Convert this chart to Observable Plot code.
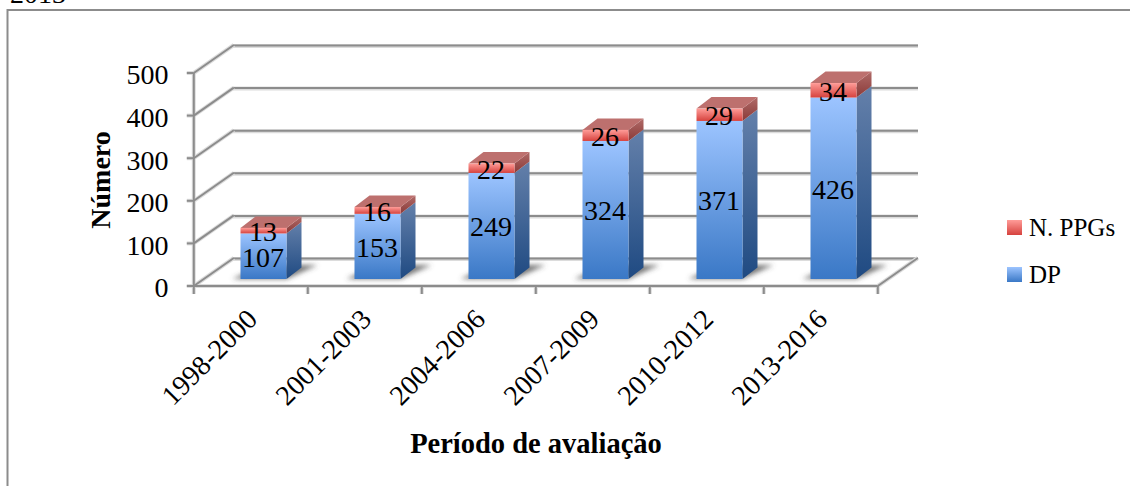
<!DOCTYPE html>
<html><head><meta charset="utf-8">
<script src="https://cdn.jsdelivr.net/npm/d3@7"></script>
<script src="https://cdn.jsdelivr.net/npm/@observablehq/plot@0.6"></script>
<style>
html,body{margin:0;padding:0;background:#fff;overflow:hidden;width:1130px;height:486px}
#chart svg{display:block}
</style></head><body><div id="chart"></div>
<script>
const periods = ["1998-2000","2001-2003","2004-2006","2007-2009","2010-2012","2013-2016"];
const dpValues = [107,153,249,324,371,426];
const ppgValues = [13,16,22,26,29,34];
const yTicks = [0,100,200,300,400,500];
const seriesNames = ["N. PPGs","DP"];
const yTitle = "Número";
const xTitle = "Período de avaliação";
const clippedHeading = "2013";

const font = "'Liberation Serif', serif";
const rows = periods.map((period,i)=>({period,dp:dpValues[i],ppg:ppgValues[i],total:dpValues[i]+ppgValues[i]}));
const wallDx = 40, wallDy = -28;   // floor depth
const barDx = 12.5, barDy = -7;    // bars stand inside the floor
const sideDx = 15, sideDy = -11.5; // bar depth
const grey = "#8c8c8c";

const svgEl = (n,a={},parent)=>{const e=document.createElementNS("http://www.w3.org/2000/svg",n);for(const k in a)e.setAttribute(k,a[k]);if(parent)parent.appendChild(e);return e;};
const bandOf = x => typeof x.bandwidth==="function" ? x.bandwidth() : x.bandwidth;

function defs(){
  const d=svgEl("defs");
  const grad=(id,c1,c2)=>{const g=svgEl("linearGradient",{id,x1:0,y1:0,x2:0,y2:1},d);svgEl("stop",{offset:0,"stop-color":c1},g);svgEl("stop",{offset:1,"stop-color":c2},g);};
  grad("blueFront","#9cc4ff","#3a78c6");
  grad("blueSide","#6480aa","#1f4a82");
  grad("redFront","#ff9c98","#d6423e");
  grad("redSide","#b06a68","#8a3a38");
  const f=svgEl("filter",{id:"blur",x:"-30%",y:"-50%",width:"160%",height:"200%"},d);
  svgEl("feGaussianBlur",{stdDeviation:2.5},f);
  return d;
}
function walls(index,{x,y}){
  const g=svgEl("g",{fill:"none"});
  const step=(x(periods[1])-x(periods[0]));
  const left=x(periods[0])-step*0.3, right=left+step*periods.length;
  const base=y(0), top=y(yTicks[yTicks.length-1]);
  for(const [stroke,w] of [["#dcdcdc",4],[grey,2]]){
    const l=svgEl("g",{stroke,"stroke-width":w},g);
    for(const t of yTicks){
      svgEl("line",{x1:left,x2:left+wallDx,y1:y(t),y2:y(t)+wallDy},l);
      svgEl("line",{x1:left-7,x2:left,y1:y(t),y2:y(t)},l);
    }
    svgEl("line",{x1:left,x2:left,y1:base,y2:top},l);
    svgEl("line",{x1:left,x2:right,y1:base,y2:base},l);
    svgEl("line",{x1:right,x2:right+wallDx,y1:base,y2:base+wallDy},l);
    for(let i=0;i<=periods.length;i++){
      svgEl("line",{x1:left+i*step,x2:left+i*step,y1:base,y2:base+8},l);
    }
  }
  return g;
}
function shadows(index,{x,y}){
  const g=svgEl("g",{fill:"#4a4a4a","fill-opacity":0.75,filter:"url(#blur)"});
  const bw=bandOf(x), b=y(0)+barDy;
  for(const r of rows){
    const l=x(r.period)+barDx, R=l+bw;
    svgEl("polygon",{points:[[l-8,b],[R,b],[R+sideDx+16,b-14],[l+sideDx+6,b-14]].join(" ")},g);
  }
  return g;
}
function sides(index,{x,y}){
  const g=svgEl("g");
  const bw=bandOf(x);
  for(const r of rows){
    const L=x(r.period)+barDx, R=L+bw;
    const p=v=>y(v)+barDy;
    svgEl("polygon",{fill:"url(#blueSide)",points:[[R,p(0)],[R+sideDx,p(0)+sideDy],[R+sideDx,p(r.dp)+sideDy],[R,p(r.dp)]].join(" ")},g);
    svgEl("polygon",{fill:"url(#redSide)",points:[[R,p(r.dp)],[R+sideDx,p(r.dp)+sideDy],[R+sideDx,p(r.total)+sideDy],[R,p(r.total)]].join(" ")},g);
    svgEl("polygon",{fill:"#bd706e",points:[[L,p(r.total)],[R,p(r.total)],[R+sideDx,p(r.total)+sideDy],[L+sideDx,p(r.total)+sideDy]].join(" ")},g);
  }
  return g;
}
const textOpts={fontFamily:font,fontSize:28,fill:"#000"};
const plot=Plot.plot({
  width:1130,height:486,
  marginLeft:193,marginRight:252,marginTop:73,marginBottom:200,
  style:{fontFamily:font,background:"#fff",overflow:"hidden"},
  x:{domain:periods,paddingInner:0.6,paddingOuter:0.3,label:null},
  y:{domain:[0,500],label:null},
  marks:[
    defs,
    Plot.ruleY(yTicks,{dx:wallDx,dy:wallDy+0.5,stroke:"#dcdcdc",strokeWidth:4}),
    Plot.ruleY(yTicks,{dx:wallDx,dy:wallDy,stroke:grey,strokeWidth:2}),
    walls,
    shadows,
    sides,
    Plot.barY(rows,{x:"period",y1:0,y2:"dp",dx:barDx,dy:barDy,fill:"url(#blueFront)"}),
    Plot.barY(rows,{x:"period",y1:"dp",y2:"total",dx:barDx,dy:barDy,fill:"url(#redFront)"}),
    Plot.text(rows,{x:"period",y:d=>d.dp/2,text:"dp",dx:barDx-1,dy:barDy+1,...textOpts}),
    Plot.text(rows,{x:"period",y:d=>d.dp+d.ppg/2,text:"ppg",dx:barDx-1,dy:barDy+1,...textOpts}),
    Plot.axisY({ticks:yTicks,tickSize:0,tickPadding:25,fontSize:28,label:null,fontFamily:font,fill:"#000",dy:2}),
    Plot.axisX({tickSize:0,tickRotate:-45,tickPadding:20,fontSize:28,label:null,fontFamily:font,fill:"#000",dx:1,dy:8}),
  ]
});
document.getElementById("chart").appendChild(plot);
// chart furniture outside the plot frame
const svg=d3.select(plot);
const extra=svg.append("g").attr("text-anchor","start").attr("fill","#000");
svg.append("path").attr("d","M7.5,486V10H1130").attr("fill","none").attr("stroke",grey).attr("stroke-width",2);
extra.append("text").attr("x",10).attr("y",3).attr("font-size",28).text(clippedHeading);
extra.append("text").attr("transform","translate(110,180) rotate(-90)").attr("text-anchor","middle").attr("font-size",28).attr("font-weight","bold").text(yTitle);
extra.append("text").attr("x",536).attr("y",453).attr("text-anchor","middle").attr("font-size",28.5).attr("font-weight","bold").text(xTitle);
[["redFront",220],["blueFront",267]].forEach(([g,yy],i)=>{
  extra.append("rect").attr("x",1007).attr("y",yy).attr("width",15).attr("height",15).attr("fill",`url(#${g})`);
  extra.append("text").attr("x",1029).attr("y",yy+16).attr("font-size",25).text(seriesNames[i]);
});
</script></body></html>
